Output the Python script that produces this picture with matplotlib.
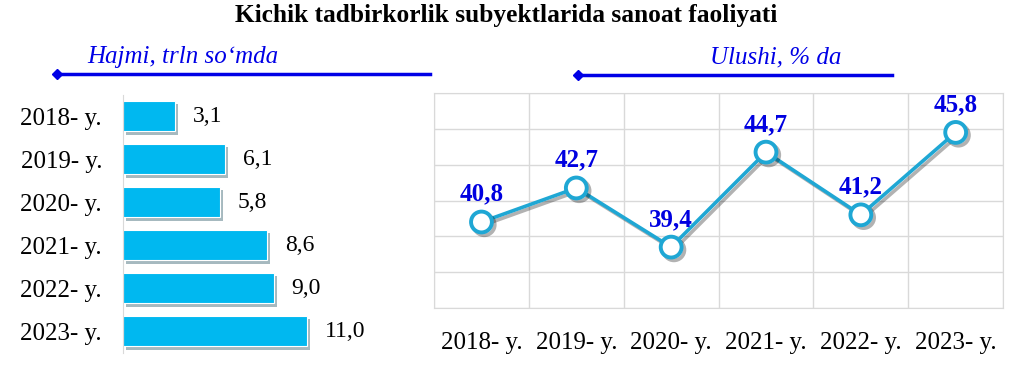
import matplotlib
matplotlib.use("Agg")
import matplotlib.pyplot as plt
import matplotlib.patheffects as pe
from matplotlib.lines import Line2D

# data
years = ["2018- y.", "2019- y.", "2020- y.", "2021- y.", "2022- y.", "2023- y."]
volume = [3.1, 6.1, 5.8, 8.6, 9.0, 11.0]        # trln so'm
share = [40.8, 42.7, 39.4, 44.7, 41.2, 45.8]    # %

def fmt(v):
    return f"{v:.1f}".replace(".", ",")

plt.rcParams["font.family"] = ["Liberation Serif", "DejaVu Serif"]

fig = plt.figure(figsize=(10.12, 3.72), dpi=100)

# title
fig.text(0.5, 0.957, "Kichik tadbirkorlik subyektlarida sanoat faoliyati",
         ha="center", va="center", fontsize=18.3, fontweight="bold")

# 1. bar chart (volume)
ax1 = fig.add_axes([0.1215, 0.0524, 0.303, 0.6935])
shadow = [pe.SimplePatchShadow(offset=(2, -2.5), alpha=0.35), pe.Normal()]
bars = ax1.barh(range(len(years)), volume, height=0.7, color="#00B8F0",
                edgecolor="white", linewidth=0.8)
for b in bars:
    b.set_path_effects(shadow)
for i, v in enumerate(volume):
    ax1.text(v + 1.05, i, fmt(v), va="center", ha="left", fontsize=17)
ax1.set_yticks(range(len(years)))
ax1.set_yticklabels(years, fontsize=18)
ax1.set_ylim(5.5, -0.5)
ax1.set_xlim(0, 18.3)
ax1.set_xticks([])
ax1.tick_params(axis="y", length=0, pad=15)
for s in ["top", "right", "bottom"]:
    ax1.spines[s].set_visible(False)
ax1.spines["left"].set_color("#D9D9D9")

# 2. line chart (share)
ax2 = fig.add_axes([0.4289, 0.172, 0.5623, 0.578])
x = range(len(years))
ax2.plot(x, share, color="#1FA7D4", linewidth=2.6, marker="o", markersize=15,
         markerfacecolor="white", markeredgecolor="#1FA7D4", markeredgewidth=2.8,
         zorder=3,
         path_effects=[pe.SimpleLineShadow(offset=(2, -2), alpha=0.3), pe.Normal()])
for i, v in enumerate(share):
    ax2.annotate(fmt(v), (i, v), xytext=(0, 20), textcoords="offset points",
                 ha="center", va="center", fontsize=18, fontweight="bold",
                 color="#0000E0", zorder=4)
ax2.set_xlim(-0.5, 5.5)
ax2.set_ylim(36, 48)
ax2.set_yticks(range(36, 49, 2))
ax2.set_xticks([i + 0.5 for i in range(-1, 6)], minor=False)
ax2.set_xticklabels([])
ax2.set_xticks(list(x), minor=True)
ax2.set_xticklabels(years, minor=True, fontsize=18)
ax2.tick_params(axis="x", which="both", length=0, pad=17)
ax2.tick_params(axis="y", length=0, labelleft=False)
ax2.grid(True, which="major", color="#D9D9D9", linewidth=1)
for s in ax2.spines.values():
    s.set_color("#D9D9D9")

# header captions with arrows
blue = "#0000E6"
fig.text(183 / 1012, 1 - 57 / 372, "Hajmi, trln so\u2018mda", ha="center",
         va="center", fontsize=18, style="italic", color=blue)
fig.add_artist(Line2D([57 / 1012, 430 / 1012], [1 - 74 / 372] * 2,
                      color=blue, linewidth=2.5))
fig.add_artist(Line2D([57 / 1012], [1 - 74 / 372], marker="D", markersize=5,
                      color=blue))
fig.text(776 / 1012, 1 - 57 / 372, "Ulushi, % da", ha="center",
         va="center", fontsize=18, style="italic", color=blue)
fig.add_artist(Line2D([578 / 1012, 892 / 1012], [1 - 75 / 372] * 2,
                      color=blue, linewidth=2.5))
fig.add_artist(Line2D([578 / 1012], [1 - 75 / 372], marker="D", markersize=5,
                      color=blue))

fig.savefig("out.png", dpi=100)
